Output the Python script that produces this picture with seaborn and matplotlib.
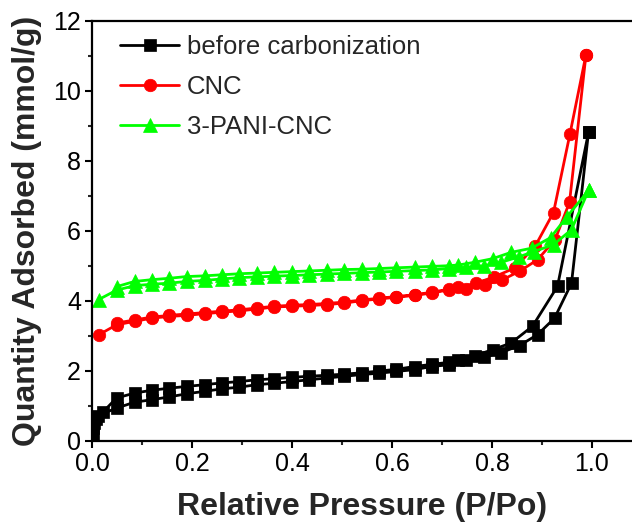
import numpy as np
import pandas as pd
import matplotlib
matplotlib.use("Agg")
import matplotlib.pyplot as plt
import seaborn as sns
from matplotlib.ticker import MultipleLocator

# ---------------- data ----------------
p_grid = [0.049, 0.085, 0.119, 0.154, 0.189, 0.225, 0.259, 0.295, 0.329, 0.364,
          0.399, 0.434, 0.469, 0.504, 0.539, 0.575, 0.609, 0.645, 0.679, 0.714]

# before carbonization
bc_ads_p = [0.0005, 0.001, 0.002, 0.004, 0.007, 0.012] + p_grid + \
           [0.749, 0.785, 0.819, 0.855, 0.891, 0.925, 0.959, 0.993]
bc_ads_q = [0.08, 0.20, 0.35, 0.50, 0.62, 0.72,
            0.93, 1.10, 1.17, 1.25, 1.34, 1.41, 1.48, 1.53, 1.60, 1.64,
            1.69, 1.74, 1.79, 1.84, 1.89, 1.93, 1.98, 2.03, 2.12, 2.17,
            2.31, 2.39, 2.52, 2.72, 3.03, 3.50, 4.50, 8.81]
bc_des_p = [0.993, 0.931, 0.881, 0.838, 0.801, 0.766, 0.733] + p_grid[::-1] + [0.022]
bc_des_q = [8.81, 4.41, 3.27, 2.79, 2.60, 2.43, 2.30,
            2.24, 2.18, 2.12, 2.04, 1.99, 1.94, 1.90, 1.87, 1.84, 1.81,
            1.77, 1.74, 1.69, 1.65, 1.60, 1.55, 1.50, 1.44, 1.36, 1.22,
            0.82]

# CNC
cnc_ads_p = [0.014] + p_grid + [0.749, 0.786, 0.821, 0.855, 0.891, 0.926, 0.955, 0.988]
cnc_ads_q = [3.03,
             3.31, 3.41, 3.50, 3.55, 3.58, 3.63, 3.67, 3.71, 3.76, 3.82,
             3.84, 3.86, 3.89, 3.93, 4.00, 4.05, 4.10, 4.15, 4.22, 4.31,
             4.33, 4.46, 4.60, 4.84, 5.17, 5.74, 6.81, 11.03]
cnc_des_p = [0.988, 0.956, 0.923, 0.886, 0.845, 0.804, 0.769, 0.733] + p_grid[::-1]
cnc_des_q = [11.03, 8.77, 6.52, 5.55, 4.93, 4.68, 4.50, 4.39,
             4.33, 4.24, 4.17, 4.12, 4.07, 4.02, 3.96, 3.92, 3.89, 3.87,
             3.84, 3.79, 3.74, 3.70, 3.66, 3.62, 3.58, 3.53, 3.45, 3.36]

# 3-PANI-CNC
pani_ads_p = [0.013] + p_grid + [0.749, 0.785, 0.819, 0.853, 0.883, 0.923, 0.959, 0.993]
pani_ads_q = [4.03,
              4.30, 4.43, 4.47, 4.50, 4.55, 4.58, 4.62, 4.66, 4.68, 4.70,
              4.72, 4.74, 4.76, 4.78, 4.80, 4.82, 4.84, 4.86, 4.88, 4.92,
              4.95, 5.00, 5.10, 5.25, 5.40, 5.60, 6.03, 7.15]
pani_des_p = [0.993, 0.950, 0.917, 0.879, 0.838, 0.801, 0.766, 0.733] + p_grid[::-1]
pani_des_q = [7.15, 6.40, 5.80, 5.50, 5.38, 5.20, 5.10, 5.02,
              5.00, 4.98, 4.96, 4.94, 4.92, 4.90, 4.89, 4.87, 4.85, 4.83,
              4.81, 4.79, 4.77, 4.74, 4.71, 4.69, 4.64, 4.60, 4.55, 4.40]

series_names = ["before carbonization", "CNC", "3-PANI-CNC"]
series_colors = ["#000000", "#FF0000", "#00FF00"]
series_markers = ["s", "o", "^"]
series_msize = [8, 9, 9.5]

x_ticks = [0.0, 0.2, 0.4, 0.6, 0.8, 1.0]
y_ticks = [0, 2, 4, 6, 8, 10, 12]

# ---------------- plot ----------------
sns.set_style("ticks")
plt.rcParams["font.family"] = ["Liberation Sans", "DejaVu Sans"]

fig = plt.figure(figsize=(6.32, 5.30), dpi=100)
ax = fig.add_axes([92 / 632, (530 - 440.7) / 530, 540 / 632, 420 / 530])

data = [(bc_ads_p, bc_ads_q, bc_des_p, bc_des_q),
        (cnc_ads_p, cnc_ads_q, cnc_des_p, cnc_des_q),
        (pani_ads_p, pani_ads_q, pani_des_p, pani_des_q)]

handles = []
for (ap, aq, dp, dq), name, col, mk, ms in zip(data, series_names, series_colors,
                                                series_markers, series_msize):
    df = pd.DataFrame({"P": list(ap) + list(dp), "Q": list(aq) + list(dq)})
    sns.lineplot(data=df, x="P", y="Q", sort=False, estimator=None,
                 color=col, marker=mk, markersize=ms, markeredgecolor=col,
                 markeredgewidth=0.5, linewidth=2.0, ax=ax, label=name,
                 legend=False)
    handles.append(ax.lines[-1])

ax.set_xlim(0, 1.08)
ax.set_ylim(0, 12)
ax.set_xticks(x_ticks)
ax.set_xticklabels([f"{v:.1f}" for v in x_ticks])
ax.set_yticks(y_ticks)
ax.set_yticklabels([str(v) for v in y_ticks])
ax.xaxis.set_minor_locator(MultipleLocator(0.1))
ax.yaxis.set_minor_locator(MultipleLocator(1))

ax.tick_params(axis="both", which="major", direction="out", length=5, width=1.5,
               labelsize=18, pad=3, colors="black")
ax.tick_params(axis="both", which="minor", direction="out", length=3, width=1.5)
ax.tick_params(top=False, right=False, which="both")

for s in ["left", "bottom", "top"]:
    ax.spines[s].set_linewidth(1.6)
    ax.spines[s].set_color("black")
ax.spines["right"].set_visible(False)

ax.set_xlabel("Relative Pressure (P/Po)", fontsize=23, fontweight="bold", labelpad=12)
ax.set_ylabel("Quantity Adsorbed (mmol/g)", fontsize=23, fontweight="bold", labelpad=8)

leg = ax.legend(handles=handles, labels=series_names, loc="upper left",
                bbox_to_anchor=(0.052, 0.967), frameon=False, fontsize=18.5,
                handlelength=2.3, handletextpad=0.3, labelspacing=0.64,
                borderpad=0, borderaxespad=0)

fig.savefig("out.png", dpi=100)
